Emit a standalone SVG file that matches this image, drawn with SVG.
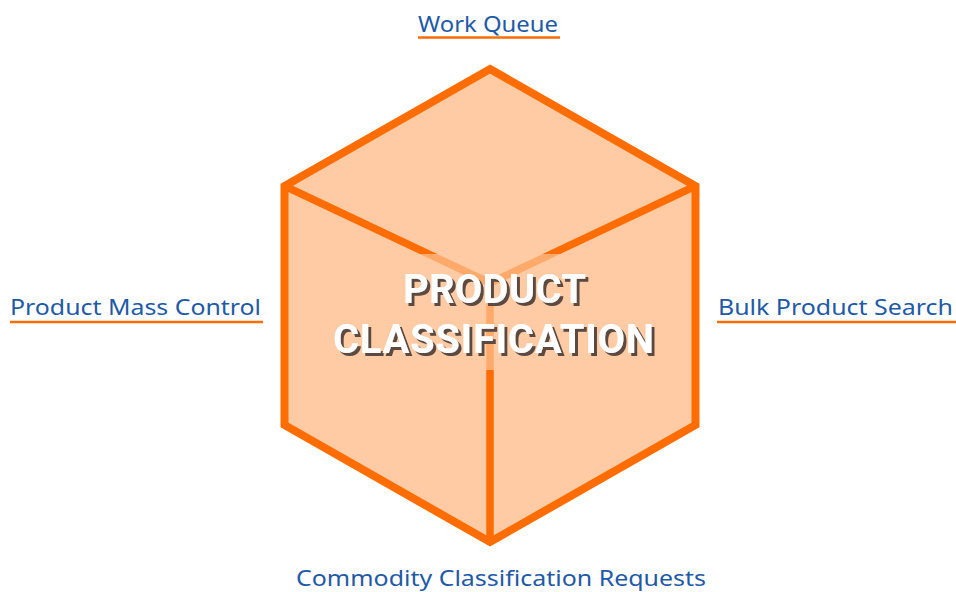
<svg xmlns="http://www.w3.org/2000/svg" width="956" height="592" viewBox="0 0 956 592">
  <style>
    .lbl { font-family: "Noto Sans", "Open Sans", "Liberation Sans", sans-serif; font-size: 22px; fill: #1f5aa6; }
    .ul { stroke: #ff6d00; stroke-width: 2.5; }
    .edge { fill: none; stroke: #ff6d00; stroke-width: 7.5; stroke-linejoin: miter; }
    .title { font-family: Roboto, "Liberation Sans", sans-serif; font-weight: 700; font-size: 40px; fill: #ffffff; filter: url(#shadow); }
  </style>
  <defs>
    <filter id="shadow" x="-10%" y="-30%" width="130%" height="160%">
      <feDropShadow dx="3" dy="3" stdDeviation="0" flood-color="#5b4a3f" flood-opacity="1"/>
    </filter>
  </defs>
  <rect width="956" height="592" fill="#ffffff"/>
  <g id="cube">
    <polygon points="490,69 695.5,186 695.5,425 490,542 284.5,425 284.5,186" fill="#ffcba4" stroke="#ff6d00" stroke-width="8" stroke-linejoin="miter"/>
  </g>
  <g id="connectors">
    <polyline class="edge" points="284.5,186 490,283 695.5,186"/>
    <line class="edge" x1="490" y1="283" x2="490" y2="542"/>
  </g>
  <rect x="418" y="254" width="144" height="116" fill="#ffcba4" fill-opacity="0.65"/>
  <g id="title">
    <text class="title" x="403" y="303" textLength="183" lengthAdjust="spacing">PRODUCT</text>
    <text class="title" x="333" y="353" textLength="321" lengthAdjust="spacing">CLASSIFICATION</text>
  </g>
  <g id="work-queue">
    <text class="lbl" x="418" y="32" textLength="140" lengthAdjust="spacingAndGlyphs">Work Queue</text>
    <line class="ul" x1="418" y1="37.5" x2="560" y2="37.5"/>
  </g>
  <g id="product-mass-control">
    <text class="lbl" x="10" y="315" textLength="251" lengthAdjust="spacingAndGlyphs">Product Mass Control</text>
    <line class="ul" x1="10" y1="322" x2="263" y2="322"/>
  </g>
  <g id="bulk-product-search">
    <text class="lbl" x="718" y="315" textLength="235" lengthAdjust="spacingAndGlyphs">Bulk Product Search</text>
    <line class="ul" x1="717" y1="322" x2="956" y2="322"/>
  </g>
  <g id="commodity-classification-requests">
    <text class="lbl" x="296" y="586" textLength="410" lengthAdjust="spacingAndGlyphs">Commodity Classification Requests</text>
  </g>
</svg>
